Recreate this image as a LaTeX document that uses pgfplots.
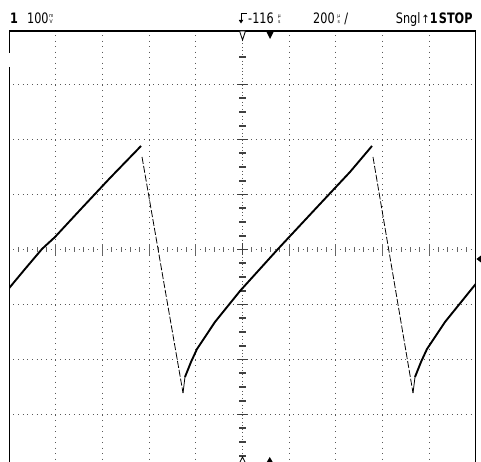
\documentclass[border=0pt]{standalone}
\usepackage{pgfplots}
\pgfplotsset{compat=1.18}
\usepackage{fontspec}
\setmainfont{DejaVu Sans Condensed}
\newfontfamily\sym{DejaVu Sans}
\newcommand{\tall}[1]{\scalebox{1}[1.15]{#1}}
\begin{document}
\begin{tikzpicture}
\useasboundingbox (-9.25pt,0pt) rectangle (471.75pt,462pt);
% ---- graticule (division units) ----
\begin{scope}[shift={(233.25pt,212.5pt)}, x=46.65pt, y=55pt]
  \foreach \y in {-3,-2,-1,1,2,3}
    \draw[black!65, line width=1pt, dash pattern=on 1pt off 3.665pt, dash phase=0.5pt] (-5,\y) -- (5,\y);
  \foreach \x in {-4,-3,-2,-1,1,2,3,4}
    \draw[black!65, line width=1pt, dash pattern=on 1pt off 4.5pt, dash phase=0.5pt] (\x,3.99) -- (\x,-3.9);
  % centre horizontal line
  \draw[black!65, line width=1pt, dash pattern=on 1pt off 3.665pt, dash phase=0.5pt] (-5,0) -- (5,0);
  \foreach \x in {-4.8,-4.6,...,4.85}
    \draw[black!60, line width=0.9pt] (\x,0) ++(0pt,-2.2pt) -- ++(0pt,4.4pt);
  \foreach \x in {-4,-3,-2,-1,1,2,3,4}
    \draw[black!60, line width=0.9pt] (\x,0) ++(0pt,-5.5pt) -- ++(0pt,11pt);
  % centre vertical line
  \draw[black!65, line width=1pt, dash pattern=on 1pt off 2.44pt, dash phase=0.5pt] (0,3.8) -- (0,-3.9);
  \foreach \y in {-3.75,-3.5,...,3.0,3.5}
    \draw[black!75, line width=1.6pt] (0,\y) ++(-3.5pt,0pt) -- ++(7pt,0pt);
  \foreach \y in {-3,-2,-1,0,1,2,3}
    \draw[black!75, line width=1.6pt] (0,\y) ++(-5.5pt,0pt) -- ++(11pt,0pt);
  \draw[black!75, line width=1pt] (0,0) ++(0pt,-6pt) -- ++(0pt,12pt);
\end{scope}
% ---- frame ----
\draw[black, line width=1.4pt] (0pt,431pt) -- (466.5pt,431pt);
\draw[black, line width=1.4pt] (0pt,431pt) -- (0pt,409pt);
\draw[black, line width=1.4pt] (0pt,395pt) -- (0pt,-1pt);
\draw[black, line width=1.4pt] (466.5pt,431pt) -- (466.5pt,-1pt);
% ---- waveform ----
\begin{axis}[at={(0pt,0pt)}, anchor=south west, scale only axis,
  width=466.5pt, height=431.97pt, xmin=-5, xmax=5, ymin=-3.864, ymax=3.99,
  hide axis, clip=true]
\addplot[black, line width=1.9pt] coordinates {
 (-5.0,-0.70) (-4.662,-0.355) (-4.298,0.009) (-4.019,0.227) (-3.483,0.718) (-2.840,1.300) (-2.175,1.882)};
\addplot[black, line width=0.8pt, dash pattern=on 7pt off 2pt] coordinates {
 (-2.154,1.682) (-1.275,-2.609)};
\addplot[black, line width=0.8pt] coordinates {(-1.275,-2.609) (-1.233,-2.318)};
\addplot[black, line width=1.9pt] coordinates {
 (-1.233,-2.318) (-1.104,-2.045) (-0.975,-1.809) (-0.590,-1.318) (-0.054,-0.755) (0.761,0.009) (1.661,0.827) (2.304,1.409) (2.776,1.882)};
\addplot[black, line width=0.8pt, dash pattern=on 7pt off 2pt] coordinates {
 (2.797,1.682) (3.655,-2.609)};
\addplot[black, line width=0.8pt] coordinates {(3.655,-2.609) (3.698,-2.318)};
\addplot[black, line width=1.9pt] coordinates {
 (3.698,-2.318) (3.826,-2.045) (3.955,-1.809) (4.341,-1.318) (4.877,-0.755) (5.0,-0.627)};
\end{axis}
% ---- markers ----
\draw[black, fill=white, line width=0.8pt] (230.25pt,431pt) -- (236.25pt,431pt) -- (233.25pt,422pt) -- cycle;
\fill[black] (257.25pt,430pt) -- (264.25pt,430pt) -- (260.75pt,423pt) -- cycle;
\draw[black, fill=white, line width=0.8pt] (230.25pt,-1pt) -- (236.25pt,-1pt) -- (233.25pt,5pt) -- cycle;
\fill[black] (257pt,-1pt) -- (264pt,-1pt) -- (260.5pt,5pt) -- cycle;
\fill[black] (467.2pt,203pt) -- (471.75pt,206.5pt) -- (471.75pt,199.5pt) -- cycle;
% ---- header text ----
\begin{scope}[every node/.style={inner sep=0pt, anchor=base west, font=\fontsize{12.5}{14}\selectfont}]
\node at (0.75pt,438pt) {\tall{\bfseries 1}};
\node at (17.75pt,438pt) {\tall{100}};
\node at (238.75pt,438pt) {\tall{-116}};
\node at (303.75pt,438pt) {\tall{200}};
\node at (335pt,438pt) {\tall{/}};
\node at (386.5pt,438pt) {\tall{Sngl}};
\node at (412pt,438pt) {\tall{{\sym\fontsize{10}{12}\selectfont ↑}\bfseries 1}};
\node at (429.5pt,438pt) {\tall{\bfseries STOP}};
\end{scope}
% stacked units
\begin{scope}[every node/.style={inner sep=0pt, anchor=base, font=\fontsize{5}{6}\selectfont}]
\node at (42pt,444.8pt) {m};
\node at (42pt,438pt) {V};
\node at (270pt,444.8pt) {µ};
\node at (270pt,438pt) {s};
\node at (329.5pt,444.8pt) {µ};
\node at (329.5pt,438pt) {s};
\end{scope}
% trigger icon
\draw[black, line width=0.9pt] (231.75pt,441pt) -- (231.75pt,449pt) -- (237.5pt,449pt);
\fill[black] (229.5pt,442pt) -- (234pt,442pt) -- (231.75pt,438.5pt) -- cycle;
\end{tikzpicture}
\end{document}
